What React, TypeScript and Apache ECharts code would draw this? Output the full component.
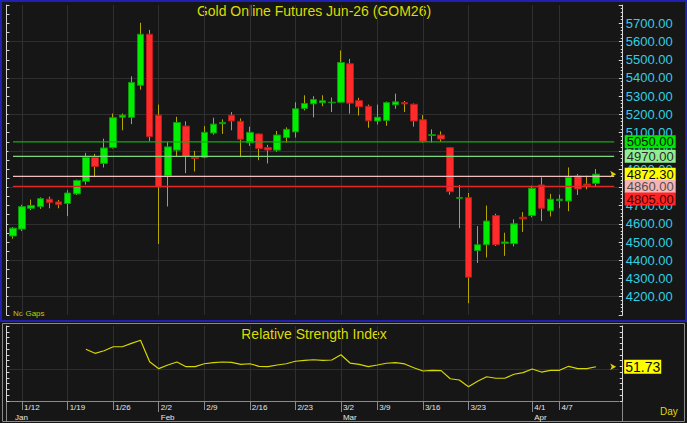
import React, { useEffect, useRef } from 'react';
import * as echarts from 'echarts';

// ---------- data ----------
const dates = [
  '1/9',
  '1/12', '1/13', '1/14', '1/15', '1/16',
  '1/19', '1/20', '1/21', '1/22', '1/23',
  '1/26', '1/27', '1/28', '1/29', '1/30',
  '2/2', '2/3', '2/4', '2/5', '2/6',
  '2/9', '2/10', '2/11', '2/12', '2/13',
  '2/16', '2/17', '2/18', '2/19', '2/20',
  '2/23', '2/24', '2/25', '2/26', '2/27',
  '3/2', '3/3', '3/4', '3/5',
  '3/9', '3/10', '3/11', '3/12', '3/13',
  '3/16', '3/17', '3/18', '3/19', '3/20',
  '3/23', '3/24', '3/25', '3/26', '3/27',
  '3/30', '3/31',
  '4/1', '4/2', '4/3',
  '4/7', '4/8', '4/9', '4/10', '4/13',
];
const padCats = ['', ' '];

const opens = [
  4533, 4571, 4685, 4694, 4735, 4720, 4711, 4764, 4833, 4964,
  4931, 5018, 5185, 5184, 5360, 5640, 5196, 4864, 5004, 5136,
  4964, 4965, 5098, 5149, 5196, 5162, 5045, 5093, 5018, 5004,
  5073, 5104, 5233, 5258, 5264, 5264, 5267, 5478, 5276, 5245,
  5164, 5167, 5253, 5265, 5256, 5171, 5085, 5087, 5018, 4740,
  4744, 4453, 4485, 4645, 4493, 4491, 4636, 4645, 4813, 4671,
  4727, 4725, 4862, 4818, 4822,
];
const closes = [
  4576, 4694, 4700, 4738, 4716, 4705, 4769, 4838, 4964, 4914,
  5016, 5182, 5196, 5376, 5640, 5078, 4802, 5022, 5156, 4969,
  4958, 5102, 5147, 5156, 5164, 5064, 5102, 5013, 5005, 5087,
  5118, 5231, 5260, 5282, 5275, 5267, 5485, 5262, 5242, 5165,
  5185, 5265, 5269, 5258, 5164, 5053, 5089, 5065, 4776, 4744,
  4307, 4485, 4615, 4485, 4500, 4600, 4627, 4795, 4685, 4735,
  4735, 4855, 4791, 4809, 4872.3,
];
const lows = [
  4518, 4560, 4675, 4682, 4685, 4685, 4642, 4758, 4815, 4856,
  4909, 5013, 5113, 5147, 5336, 5053, 4489, 4695, 4967, 4878,
  4887, 4960, 5089, 5093, 5113, 4965, 5027, 4949, 4931, 4995,
  5045, 5073, 5222, 5184, 5245, 5213, 5265, 5204, 5194, 5127,
  5145, 5138, 5231, 5213, 5133, 5045, 5045, 5049, 4760, 4576,
  4164, 4385, 4415, 4478, 4424, 4476, 4555, 4636, 4615, 4640,
  4685, 4669, 4758, 4789, 4804,
];
const highs = [
  4582, 4704, 4733, 4745, 4749, 4731, 4784, 4842, 4989, 4984,
  5067, 5205, 5205, 5409, 5703, 5664, 5254, 5051, 5187, 5162,
  5000, 5136, 5182, 5173, 5213, 5178, 5133, 5095, 5033, 5109,
  5129, 5267, 5305, 5300, 5305, 5293, 5551, 5505, 5291, 5254,
  5254, 5271, 5314, 5274, 5260, 5196, 5118, 5107, 5020, 4813,
  4769, 4587, 4700, 4655, 4551, 4624, 4664, 4809, 4855, 4764,
  4760, 4909, 4873, 4864, 4900,
];

const levelValues = [5050, 4970, 4860, 4805];
const priceGridValues = [4200, 4400, 4600, 4800, 5000, 5200, 5400, 5600];
const weekStarts = ['1/12', '1/19', '1/26', '2/2', '2/9', '2/16', '2/23', '3/2', '3/9', '3/16', '3/23', '4/1', '4/7'];
const monthStarts = ['1/9', '2/2', '3/2', '4/1'];
const monthNames = ['Jan', 'Feb', 'Mar', 'Apr'];

const rsi = [
  null, null, null, null, null, null, null, null,
  66.6, 63.2, 65.4, 68.8, 68.8, 71.7, 74.3, 56.0, 50.1, 53.2,
  55.8, 51.8, 51.8, 54.3, 55.2, 55.8, 55.5, 53.8, 54.3, 52.1,
  51.8, 53.2, 54.3, 56.4, 57.2, 57.7, 57.2, 57.5, 62.0, 54.9,
  53.8, 51.8, 53.2, 54.7, 55.2, 54.1, 50.9, 48.1, 48.7, 48.4,
  41.5, 40.4, 34.7, 39.3, 43.2, 41.9, 41.9, 45.3, 46.7, 49.8,
  47.2, 48.7, 48.7, 52.1, 50.1, 50.1, 51.73,
];
const rsiGridValues = [50];

// ---------- styles ----------
const FONT = '"Liberation Sans", Arial, sans-serif';
const WICK = '#b4a700';
const UP = '#00ee00';
const DOWN = '#ff2b2b';
const AXIS = '#d6d6d6';
const GRIDC = '#2f2f2f';
const TITLE = '#dcdc00';
const CLEAR = 'rgba(0,0,0,0)';

export default function App() {
  const ref = useRef<HTMLDivElement>(null);

  useEffect(() => {
    if (!ref.current) return;
    const chart = echarts.init(ref.current, null, { renderer: 'svg' });

    const cats = [...dates, ...padCats];
    const N = cats.length;
    const BW = 9.109;
    const gridLeft = 13 - BW / 2;
    const gridWidth = N * BW;
    const lastIdx = N - 1;
    const lastClose = closes[closes.length - 1];
    const lastRsi = rsi[rsi.length - 1] as number;

    const levelStyles = [
      { line: '#14a814', bg: '#00e600', fg: '#0c0c0c', dy: 0, w: 1.3 },
      { line: '#7fd87f', bg: '#90ee90', fg: '#2a2a2a', dy: 0, w: 1.3 },
      { line: '#f2c0c0', bg: '#f8b4b4', fg: '#505050', dy: 10.2, w: 1.3 },
      { line: '#e22626', bg: '#ff2424', fg: '#3a0000', dy: 12.7, w: 1.3 },
    ];

    const labelBase = {
      show: true,
      position: 'right',
      distance: 10,
      fontSize: 13,
      lineHeight: 12,
      padding: [1, 2, 0, 2],
      fontFamily: FONT,
      opacity: 1,
    };

    const mkLabel = (v: number, bg: string, fg: string, dy: number) => ({
      value: [lastIdx, v],
      label: { ...labelBase, formatter: v.toFixed(2), backgroundColor: bg, color: fg, offset: [0, dy] },
    });

    const priceLabels = [
      mkLabel(levelValues[0], levelStyles[0].bg, levelStyles[0].fg, levelStyles[0].dy),
      mkLabel(levelValues[1], levelStyles[1].bg, levelStyles[1].fg, levelStyles[1].dy),
      mkLabel(lastClose, '#ffff00', '#0c0c0c', 0),
      mkLabel(levelValues[2], levelStyles[2].bg, levelStyles[2].fg, levelStyles[2].dy),
      mkLabel(levelValues[3], levelStyles[3].bg, levelStyles[3].fg, levelStyles[3].dy),
    ];

    const decoAxisY = (gridIndex: number, position: string, offset: number, min: number, max: number, interval: number, len: number) => ({
      gridIndex,
      type: 'value',
      position,
      offset,
      min,
      max,
      interval,
      axisLine: { show: true, lineStyle: { color: AXIS, width: 1 } },
      axisTick: { show: true, inside: true, length: len, lineStyle: { color: AXIS } },
      axisLabel: { show: false },
      splitLine: { show: false },
    });

    const option: any = {
      animation: false,
      backgroundColor: '#161616',
      textStyle: { fontFamily: FONT },
      grid: [
        { left: gridLeft, top: 5.1, width: gridWidth, height: 309.8 },
        { left: gridLeft, top: 326, width: gridWidth, height: 75 },
      ],
      xAxis: [
        { gridIndex: 0, type: 'category', data: cats, show: false },
        {
          gridIndex: 1,
          type: 'category',
          data: cats,
          position: 'bottom',
          axisLine: { show: true, lineStyle: { color: '#8a8a8a' } },
          axisTick: {
            show: true,
            interval: (_i: number, v: string) => weekStarts.includes(v),
            alignWithLabel: true,
            length: 9,
            lineStyle: { color: '#8a8a8a' },
          },
          axisLabel: {
            interval: (_i: number, v: string) => weekStarts.includes(v),
            formatter: (v: string) => v,
            align: 'left',
            margin: 2,
            fontSize: 8,
            color: '#e6e6e6',
            padding: [0, 0, 0, 2],
          },
          splitLine: { show: false },
        },
        {
          gridIndex: 1,
          type: 'category',
          data: cats,
          position: 'bottom',
          offset: 9,
          axisLine: { show: true, lineStyle: { color: '#8a8a8a' } },
          axisTick: {
            show: true,
            interval: (_i: number, v: string) => monthStarts.indexOf(v) > 0,
            alignWithLabel: true,
            length: 11,
            lineStyle: { color: '#8a8a8a' },
          },
          axisLabel: {
            interval: (_i: number, v: string) => monthStarts.includes(v),
            formatter: (v: string) => monthNames[monthStarts.indexOf(v)] || '',
            align: 'left',
            margin: 3,
            fontSize: 8,
            color: '#e6e6e6',
            padding: [0, 0, 0, 2],
          },
          splitLine: { show: false },
        },
      ],
      yAxis: [
        {
          gridIndex: 0,
          type: 'value',
          position: 'right',
          offset: 4,
          min: 4100,
          max: 5800,
          interval: 100,
          axisLine: { show: true, lineStyle: { color: AXIS } },
          axisTick: { show: true, inside: true, length: 4, lineStyle: { color: AXIS } },
          minorTick: { show: true, splitNumber: 5, length: 2, lineStyle: { color: AXIS } },
          axisLabel: {
            showMinLabel: false,
            showMaxLabel: false,
            formatter: (v: number) => v.toFixed(2),
            color: '#30d0e2',
            fontSize: 13,
            margin: 3,
          },
          splitLine: { show: false },
        },
        decoAxisY(0, 'left', 2, 4100, 5800, 50, 3),
        { gridIndex: 1, type: 'value', position: 'left', min: 22.5, max: 86.5, show: false, splitLine: { show: false } },
        decoAxisY(1, 'right', 4, 0, 65, 5, 3),
        decoAxisY(1, 'left', 2, 0, 65, 5, 3),
      ],
      graphic: [
        { type: 'rect', z: -1, shape: { x: 1, y: 1, width: 685, height: 320 }, style: { fill: 'none', stroke: '#2020b4', lineWidth: 2 } },
        { type: 'rect', z: -1, shape: { x: 2.5, y: 323.5, width: 682, height: 98 }, style: { fill: 'none', stroke: '#8a8a8a', lineWidth: 1 } },
        { type: 'line', shape: { x1: 622.5, y1: 401, x2: 622.5, y2: 421 }, style: { stroke: '#8a8a8a', lineWidth: 1 } },
        { type: 'line', shape: { x1: 6.5, y1: 401, x2: 6.5, y2: 421 }, style: { stroke: '#8a8a8a', lineWidth: 1 } },
        {
          type: 'text', x: 314, y: 11,
          style: { text: 'Gold Online Futures Jun-26 (GOM26)', fill: TITLE, fontSize: 14, fontFamily: FONT, align: 'center', verticalAlign: 'middle', textAlign: 'center', textVerticalAlign: 'middle' },
        },
        {
          type: 'text', x: 314, y: 334,
          style: { text: 'Relative Strength Index', fill: TITLE, fontSize: 14, fontFamily: FONT, align: 'center', verticalAlign: 'middle', textAlign: 'center', textVerticalAlign: 'middle' },
        },
        {
          type: 'text', x: 13, y: 313,
          style: { text: 'No Gaps', fill: '#c8c800', fontSize: 8, fontFamily: FONT, verticalAlign: 'middle', textVerticalAlign: 'middle' },
        },
        {
          type: 'text', x: 660, y: 411,
          style: { text: 'Day', fill: '#dcdc00', fontSize: 10, fontFamily: FONT, verticalAlign: 'middle', textVerticalAlign: 'middle' },
        },
      ],
      series: [
        {
          name: 'wicks',
          type: 'candlestick',
          xAxisIndex: 0,
          yAxisIndex: 0,
          z: 10,
          barWidth: 1,
          silent: true,
          data: opens.map((o, i) => [o, closes[i], lows[i], highs[i]]),
          itemStyle: { color: WICK, color0: WICK, borderColor: WICK, borderColor0: WICK, borderWidth: 1 },
          markLine: {
            silent: true,
            symbol: ['none', 'none'],
            label: { show: false },
            lineStyle: { color: GRIDC, width: 1, type: 'solid' },
            data: [
              ...priceGridValues.map((v) => ({ yAxis: v })),
              ...weekStarts.map((d) => ({ xAxis: d })),
            ],
          },
        },
        {
          name: 'bodies',
          type: 'candlestick',
          xAxisIndex: 0,
          yAxisIndex: 0,
          z: 11,
          barWidth: 7,
          silent: true,
          data: opens.map((o, i) => [o, closes[i], Math.min(o, closes[i]), Math.max(o, closes[i])]),
          itemStyle: { color: UP, color0: DOWN, borderColor: '#0c9a0c', borderColor0: '#b81c1c', borderWidth: 1 },
        },
        ...levelValues.map((v, k) => ({
          name: 'level' + v,
          type: 'line',
          xAxisIndex: 0,
          yAxisIndex: 0,
          z: 20,
          silent: true,
          symbol: 'none',
          data: [[0, v], [lastIdx, v]],
          lineStyle: { color: levelStyles[k].line, width: levelStyles[k].w },
        })),
        {
          name: 'priceLabels',
          type: 'scatter',
          xAxisIndex: 0,
          yAxisIndex: 0,
          z: 30,
          silent: true,
          symbolSize: 1,
          itemStyle: { color: CLEAR, opacity: 1 },
          data: priceLabels,
        },
        {
          name: 'priceArrow',
          type: 'scatter',
          xAxisIndex: 0,
          yAxisIndex: 0,
          z: 31,
          silent: true,
          symbol: 'arrow',
          symbolRotate: -90,
          symbolSize: [5, 6],
          symbolOffset: [2, 0],
          itemStyle: { color: '#e0d000', opacity: 1 },
          data: [[lastIdx, lastClose]],
        },
        {
          name: 'RSI',
          type: 'line',
          xAxisIndex: 1,
          yAxisIndex: 2,
          z: 10,
          silent: true,
          symbol: 'none',
          data: rsi,
          lineStyle: { color: '#d6d600', width: 1.2 },
          markLine: {
            silent: true,
            symbol: ['none', 'none'],
            label: { show: false },
            lineStyle: { color: GRIDC, width: 1, type: 'solid' },
            data: [
              ...rsiGridValues.map((v) => ({ yAxis: v })),
              ...weekStarts.map((d) => ({ xAxis: d })),
            ],
          },
        },
        {
          name: 'rsiLabel',
          type: 'scatter',
          xAxisIndex: 1,
          yAxisIndex: 2,
          z: 30,
          silent: true,
          symbol: 'arrow',
          symbolRotate: -90,
          symbolSize: [5, 6],
          symbolOffset: [2, 0],
          itemStyle: { color: '#e0d000', opacity: 1 },
          data: [
            {
              value: [lastIdx, lastRsi],
              label: { ...labelBase, distance: 8, fontSize: 14, lineHeight: 13, padding: [1, 1, 0, 1], formatter: lastRsi.toFixed(2), backgroundColor: '#ffff00', color: '#0c0c0c' },
            },
          ],
        },
      ],
    };

    chart.setOption(option);
    return () => chart.dispose();
  }, []);

  return <div ref={ref} style={{ position: 'fixed', left: 0, top: 0, width: 687, height: 423 }} />;
}
